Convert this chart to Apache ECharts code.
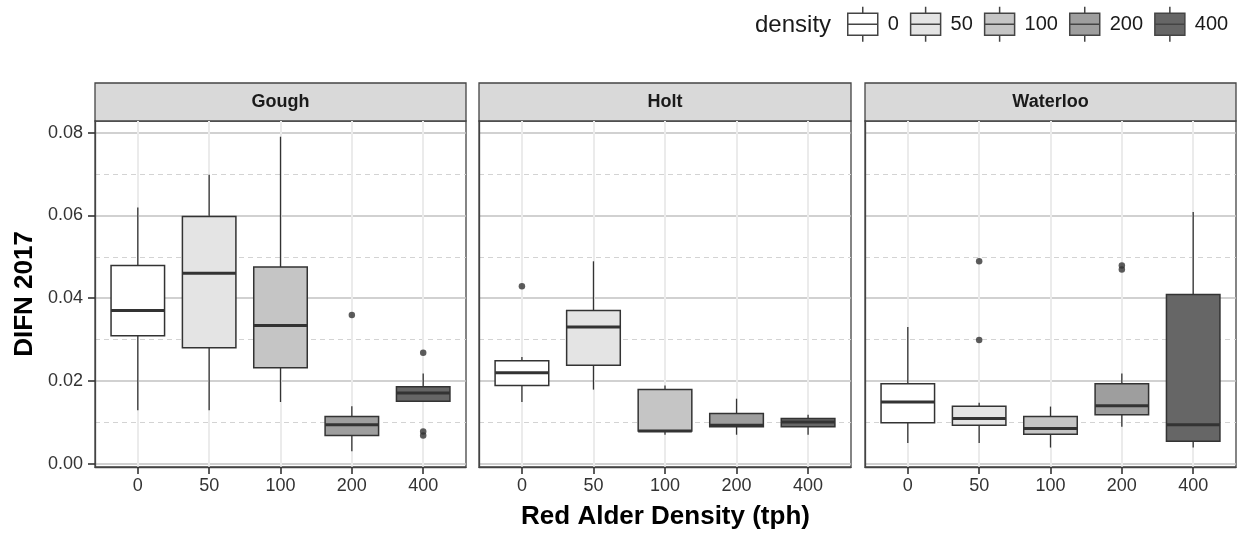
<!DOCTYPE html>
<html>
<head>
<meta charset="utf-8">
<script src="https://cdn.jsdelivr.net/npm/echarts@6/dist/echarts.min.js"></script>
<style>
html,body{margin:0;padding:0;background:#fff;}
#chart{width:1238px;height:534px;}
</style>
</head>
<body>
<div id="chart"></div>
<script>
// ---------------- data ----------------
const categories = ['0', '50', '100', '200', '400'];
const sites = ['Gough', 'Holt', 'Waterloo'];
const yTicks = [0, 0.02, 0.04, 0.06, 0.08];

// [lower whisker, Q1, median, Q3, upper whisker] per density
const goughBoxes = [
  [0.0129, 0.0309, 0.0370, 0.0479, 0.0619],
  [0.0129, 0.0280, 0.0460, 0.0597, 0.0698],
  [0.0149, 0.0232, 0.0334, 0.0475, 0.0790],
  [0.0030, 0.0068, 0.0094, 0.0114, 0.0139],
  [0.0149, 0.0151, 0.0171, 0.0186, 0.0218]
];
const holtBoxes = [
  [0.0149, 0.0189, 0.0220, 0.0249, 0.0258],
  [0.0179, 0.0238, 0.0330, 0.0370, 0.0489],
  [0.0070, 0.0079, 0.0079, 0.0179, 0.0189],
  [0.0070, 0.0089, 0.0093, 0.0121, 0.0157],
  [0.0070, 0.0089, 0.0101, 0.0109, 0.0118]
];
const waterlooBoxes = [
  [0.0050, 0.0099, 0.0149, 0.0193, 0.0330],
  [0.0050, 0.0093, 0.0109, 0.0139, 0.0147],
  [0.0039, 0.0071, 0.0085, 0.0114, 0.0138],
  [0.0089, 0.0118, 0.0140, 0.0193, 0.0218],
  [0.0039, 0.0054, 0.0094, 0.0409, 0.0608]
];
// outliers: [density, value]
const goughOutliers = [['200', 0.0359], ['400', 0.0268], ['400', 0.0078], ['400', 0.0068]];
const holtOutliers = [['0', 0.0429]];
const waterlooOutliers = [['50', 0.0489], ['50', 0.0299], ['200', 0.0479], ['200', 0.0469]];

const xTitle = 'Red Alder Density (tph)';
const yTitle = 'DIFN 2017';
const legendTitle = 'density';

// ---------------- style ----------------
const FONT = '"Liberation Sans", Arial, Helvetica, sans-serif';
const fills = ['#FFFFFF', '#E4E4E4', '#C5C5C5', '#9E9E9E', '#666666'];
const LINE = '#333333';
const BORDER = '#444444';
const panels = [
  { left: 95, width: 371 },
  { left: 479, width: 372 },
  { left: 865, width: 371 }
];
const PTOP = 121, PHEIGHT = 346;
const STRIP_TOP = 83, STRIP_H = 38;

const siteBoxes = [goughBoxes, holtBoxes, waterlooBoxes];
const siteOutliers = [goughOutliers, holtOutliers, waterlooOutliers];

function renderBox(params, api) {
  const x = api.value(0);
  const p = i => api.coord([x, api.value(i)]);
  const lo = p(1), q1 = p(2), md = p(3), q3 = p(4), hi = p(5);
  const w = api.size([0.75, 0])[0];
  const fill = api.visual('color');
  return {
    type: 'group',
    children: [
      { type: 'line', shape: { x1: lo[0], y1: lo[1], x2: q1[0], y2: q1[1] }, style: { stroke: LINE, lineWidth: 1.3 } },
      { type: 'line', shape: { x1: q3[0], y1: q3[1], x2: hi[0], y2: hi[1] }, style: { stroke: LINE, lineWidth: 1.3 } },
      { type: 'rect', shape: { x: q1[0] - w / 2, y: q3[1], width: w, height: q1[1] - q3[1] }, style: { fill: fill, stroke: LINE, lineWidth: 1.5 } },
      { type: 'line', shape: { x1: md[0] - w / 2, y1: md[1], x2: md[0] + w / 2, y2: md[1] }, style: { stroke: LINE, lineWidth: 3 } }
    ]
  };
}

const grid = [], xAxis = [], yAxis = [], series = [], graphic = [];
panels.forEach((pn, si) => {
  grid.push({ left: pn.left, top: PTOP, width: pn.width, height: PHEIGHT, show: true, borderColor: BORDER, borderWidth: 1.3, backgroundColor: '#fff' });
  xAxis.push({
    type: 'value', gridIndex: si, min: -0.6, max: 4.6, position: 'bottom',
    axisLine: { show: true, onZero: false, lineStyle: { color: BORDER, width: 1.3 } },
    axisTick: { show: true, inside: false, length: 7, customValues: [0, 1, 2, 3, 4], lineStyle: { color: LINE, width: 1.6 } },
    axisLabel: { show: true, customValues: [0, 1, 2, 3, 4], formatter: v => categories[Math.round(v)], fontSize: 18, color: '#333', fontFamily: FONT, margin: 10 },
    splitLine: { show: true, lineStyle: { color: '#ebebeb', width: 2 } }
  });
  yAxis.push({
    type: 'value', gridIndex: si, min: -0.0008, max: 0.0828, position: 'left',
    axisLine: { show: true, onZero: false, lineStyle: { color: BORDER, width: 1.3 } },
    axisTick: { show: si === 0, inside: false, length: 7, customValues: yTicks, lineStyle: { color: LINE, width: 1.6 } },
    axisLabel: { show: si === 0, customValues: yTicks, formatter: v => v.toFixed(2), fontSize: 18, color: '#333', fontFamily: FONT, margin: 12 },
    splitLine: { show: true, lineStyle: { color: '#c2c2c2', width: 1.6 } },
    minorTick: { show: false, splitNumber: 2 },
    minorSplitLine: { show: true, lineStyle: { color: '#d3d3d3', width: 1.2, type: [5, 4] } }
  });
  const boxes = siteBoxes[si];
  categories.forEach((cat, ci) => {
    series.push({
      type: 'custom', name: cat, xAxisIndex: si, yAxisIndex: si,
      encode: { x: 0, y: [1, 2, 3, 4, 5] },
      itemStyle: { color: fills[ci], borderColor: LINE },
      renderItem: renderBox,
      data: [[ci].concat(boxes[ci])],
      z: 3
    });
  });
  series.push({
    type: 'scatter', name: 'outliers', xAxisIndex: si, yAxisIndex: si,
    symbolSize: 6.5, itemStyle: { color: '#333' }, z: 5,
    data: siteOutliers[si].map(d => [categories.indexOf(d[0]), d[1]])
  });
  graphic.push({
    type: 'rect', shape: { x: pn.left, y: STRIP_TOP, width: pn.width, height: STRIP_H },
    style: { fill: '#d9d9d9', stroke: BORDER, lineWidth: 1.3 }
  });
  graphic.push({
    type: 'text', x: pn.left + pn.width / 2, y: STRIP_TOP + STRIP_H / 2 + 0.5,
    style: { text: sites[si], font: 'bold 18px ' + FONT, fill: '#1a1a1a', align: 'center', verticalAlign: 'middle' }
  });
});

graphic.push({
  type: 'text', x: 665.5, y: 517,
  style: { text: xTitle, font: 'bold 26px ' + FONT, fill: '#000', align: 'center', verticalAlign: 'middle' }
});
graphic.push({
  type: 'text', x: 25, y: 294, rotation: Math.PI / 2,
  style: { text: yTitle, font: 'bold 26px ' + FONT, fill: '#000', align: 'center', verticalAlign: 'middle' }
});
graphic.push({
  type: 'text', x: 755, y: 25,
  style: { text: legendTitle, font: '24px ' + FONT, fill: '#1a1a1a', align: 'left', verticalAlign: 'middle' }
});

const option = {
  animation: false,
  backgroundColor: '#fff',
  grid, xAxis, yAxis, series, graphic,
  legend: {
    left: 847, top: 6, padding: 0, itemGap: 11, itemWidth: 30, itemHeight: 35,
    selectedMode: false,
    icon: 'path://M0,6.5H30V28.5H0Z M0,17.5H30 M15,0V6.5 M15,28.5V35',
    data: categories.map((c, i) => ({ name: c, itemStyle: { color: fills[i], borderColor: '#444', borderWidth: 1.5 } })),
    textStyle: { fontSize: 20, color: '#1a1a1a', fontFamily: FONT, padding: [0, 0, 0, 5] }
  }
};

const chart = echarts.init(document.getElementById('chart'), null, { renderer: 'canvas' });
chart.setOption(option);
</script>
</body>
</html>
